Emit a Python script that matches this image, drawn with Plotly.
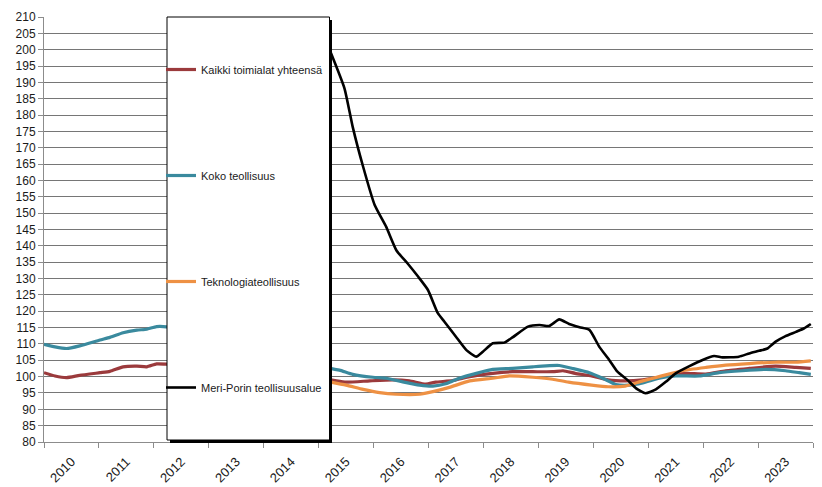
import plotly.graph_objects as go

# ---- data ----
t_kaikki = [2010.0, 2010.2, 2010.41, 2010.65, 2011.02, 2011.2, 2011.44, 2011.69, 2011.87, 2012.05, 2012.23,
            2015.2, 2015.5, 2015.93, 2016.35, 2016.65, 2016.95, 2017.13, 2017.44, 2017.75, 2018.17, 2018.53,
            2018.9, 2019.26, 2019.45, 2019.67, 2019.97, 2020.27, 2020.58, 2020.9, 2021.2, 2021.62, 2022.05,
            2022.41, 2022.84, 2023.32, 2023.69, 2023.96]
v_kaikki = [101.2, 100.2, 99.7, 100.4, 101.2, 101.6, 103.0, 103.2, 103.0, 103.9, 103.8,
            99.0, 98.3, 98.7, 99.0, 98.7, 97.7, 98.3, 98.8, 100.0, 101.0, 101.5,
            101.5, 101.5, 101.8, 101.0, 100.2, 99.0, 98.7, 99.0, 99.8, 101.0, 100.8,
            101.8, 102.5, 103.2, 102.8, 102.5]

t_koko = [2010.0, 2010.2, 2010.41, 2010.65, 2011.02, 2011.2, 2011.44, 2011.69, 2011.87, 2012.05, 2012.23,
          2015.2, 2015.38, 2015.62, 2015.99, 2016.23, 2016.53, 2016.84, 2017.08, 2017.33, 2017.56, 2017.87,
          2018.17, 2018.53, 2018.9, 2019.14, 2019.38, 2019.62, 2019.93, 2020.17, 2020.41, 2020.65, 2020.9,
          2021.2, 2021.5, 2021.93, 2022.29, 2022.71, 2023.14, 2023.5, 2023.75, 2023.96]
v_koko = [109.9, 109.1, 108.6, 109.4, 111.2, 112.0, 113.4, 114.2, 114.5, 115.3, 115.2,
          102.5, 102.0, 100.7, 99.8, 99.5, 98.4, 97.4, 97.1, 97.9, 99.5, 101.0,
          102.2, 102.5, 103.0, 103.3, 103.4, 102.5, 101.2, 99.5, 97.6, 97.4, 98.1,
          99.5, 100.2, 100.2, 101.2, 101.8, 102.2, 101.8, 101.2, 100.7]

t_tekno = [2015.2, 2015.5, 2015.81, 2016.11, 2016.41, 2016.84, 2017.08, 2017.38, 2017.75, 2018.17, 2018.47,
           2018.9, 2019.26, 2019.55, 2019.97, 2020.27, 2020.58, 2020.9, 2021.2, 2021.62, 2022.05, 2022.41,
           2022.84, 2023.32, 2023.69, 2023.96]
v_tekno = [98.4, 97.4, 96.1, 95.1, 94.6, 94.6, 95.4, 96.7, 98.7, 99.5, 100.2,
           99.8, 99.2, 98.3, 97.4, 96.9, 97.1, 98.7, 100.0, 101.8, 102.8, 103.5,
           104.0, 104.4, 104.4, 104.8]

t_meri = [2015.2, 2015.47, 2015.62, 2015.81, 2016.02, 2016.23, 2016.42, 2016.62, 2016.81, 2016.99, 2017.17,
          2017.29, 2017.5, 2017.69, 2017.87, 2017.99, 2018.17, 2018.38, 2018.53, 2018.81, 2019.02, 2019.2,
          2019.38, 2019.56, 2019.75, 2019.93, 2020.11, 2020.29, 2020.44, 2020.62, 2020.78, 2020.95, 2021.14,
          2021.32, 2021.5, 2021.75, 2021.99, 2022.2, 2022.35, 2022.65, 2022.84, 2023.02, 2023.17, 2023.32,
          2023.5, 2023.69, 2023.84, 2023.96]
v_meri = [200.0, 188.2, 176.4, 164.2, 152.5, 145.8, 138.5, 134.6, 130.6, 126.5, 119.4,
          116.8, 112.2, 108.1, 106.1, 107.6, 110.2, 110.4, 112.0, 115.3, 115.8, 115.5,
          117.5, 116.1, 115.1, 114.3, 109.1, 105.1, 101.5, 99.0, 96.4, 94.9, 96.1,
          98.4, 101.0, 103.2, 105.1, 106.3, 105.9, 106.1, 107.1, 107.9, 108.6, 110.7,
          112.4, 113.7, 114.8, 116.1]

series_names = ["Kaikki toimialat yhteensä", "Koko teollisuus", "Teknologiateollisuus", "Meri-Porin teollisuusalue"]
year_labels = [str(y) for y in range(2010, 2024)]
y_ticks = list(range(80, 211, 5))

FONT = "Liberation Sans, Arial, sans-serif"

fig = go.Figure()
specs = [
    (t_kaikki, v_kaikki, "#9B3A3C", 3.2),
    (t_koko, v_koko, "#3A8A9E", 3.2),
    (t_tekno, v_tekno, "#EE9144", 3.2),
    (t_meri, v_meri, "#000000", 2.6),
]
for (tx, vy, col, w), name in zip(specs, series_names):
    fig.add_trace(go.Scatter(x=tx, y=vy, mode="lines", name=name, legendgroup=name,
                             line=dict(color=col, width=w, shape="spline", smoothing=0.5)))

# legend box with shadow (paper coords)
L, R, T, B = 44, 813, 17, 442
def px(x):
    return (x - L) / (R - L)
def py(y):
    return (B - y) / (B - T)

fig.add_shape(type="rect", xref="paper", yref="paper", layer="above",
              x0=px(170), x1=px(332), y0=py(443), y1=py(20),
              fillcolor="black", line=dict(width=0))
fig.add_shape(type="rect", xref="paper", yref="paper", layer="above",
              x0=px(167), x1=px(329.5), y0=py(440), y1=py(17),
              fillcolor="white", line=dict(color="black", width=1))

fig.update_layout(
    width=822, height=487,
    margin=dict(l=L, r=822 - R, t=T, b=487 - B, autoexpand=False),
    paper_bgcolor="white", plot_bgcolor="white",
    font=dict(family=FONT, size=12, color="#1a1a1a"),
    showlegend=True,
    legend=dict(x=px(161), y=py(55), xanchor="left", yanchor="top",
                bgcolor="rgba(0,0,0,0)", borderwidth=0,
                tracegroupgap=87, traceorder="grouped",
                font=dict(family=FONT, size=11, color="#1a1a1a")),
    xaxis=dict(range=[2010, 2024], showgrid=False, zeroline=False, automargin=False,
               showline=True, linecolor="#8c8c8c", linewidth=1,
               tickmode="array", tickvals=[y + 0.5 for y in range(2010, 2024)], ticktext=year_labels,
               ticks="", tickangle=-45, ticklabelstandoff=6,
               tickfont=dict(family=FONT, size=13, color="#1a1a1a"),
               minor=dict(tickmode="array", tickvals=list(range(2010, 2025)), ticks="outside",
                          ticklen=5, tickcolor="#8c8c8c", showgrid=False)),
    yaxis=dict(range=[80, 210], tickmode="array", tickvals=y_ticks, ticktext=[str(v) for v in y_ticks],
               showgrid=True, gridcolor="#767676", gridwidth=1, zeroline=False, automargin=False,
               showline=True, linecolor="#8c8c8c", linewidth=1,
               ticks="outside", ticklen=5, tickcolor="#8c8c8c",
               tickfont=dict(family=FONT, size=12, color="#1a1a1a")),
)

fig.write_html("out.html", post_script="document.body.style.margin='0';",
               config={"displayModeBar": False})
